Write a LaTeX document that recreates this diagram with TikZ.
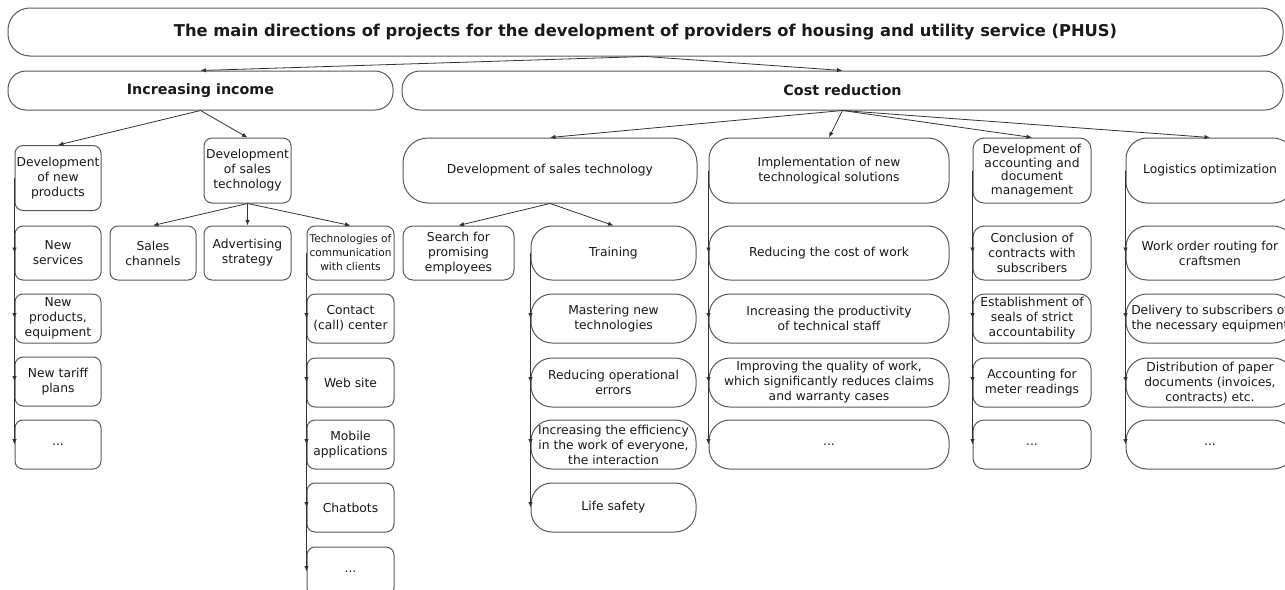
\documentclass[tikz,border=0pt]{standalone}
\usepackage{fontspec}
\setmainfont{DejaVu Sans}
\usepackage{tikz}
\usetikzlibrary{arrows.meta}

\begin{document}
\begin{tikzpicture}[x=1pt, y=-1pt,
	box/.style={draw=black!65, line width=1pt, text=black!90, align=center, inner sep=0pt, font=\fontsize{12.3}{15}\selectfont, rounded corners=8pt},
	wide/.style={box, rounded corners=21pt},
	head/.style={box, font=\bfseries\fontsize{14.3}{17}\selectfont, rounded corners=18pt, minimum height=39pt},
	rowa/.style={minimum height=65pt},
	rowb/.style={minimum height=54pt},
	rowc/.style={minimum height=49pt},
	link/.style={draw=black!80, line width=0.8pt, -{Latex[length=5.5pt,width=4.5pt]}}]
	\clip (0,0) rectangle (1285,589);
	\node[head, minimum width=1275pt, minimum height=48pt, rounded corners=22pt, font=\bfseries\fontsize{16.3}{19}\selectfont] (title) at (645.5,32) {The main directions of projects for the development of providers of housing and utility service (PHUS)};
	\node[head, minimum width=385pt] (inc) at (200.5,90.5) {Increasing income};
	\node[head, minimum width=881pt] (cost) at (842.5,90.5) {Cost reduction};
	\draw[link] (title.south) -- (inc.north);
	\draw[link] (title.south) -- (cost.north);

	\node[box, rowa, minimum width=86pt] (newprod) at (58,178) {Development\\of new\\products};
	\node[box, rowb, minimum width=86pt] (nserv) at (58,253) {New\\services};
	\node[box, rowc, minimum width=86pt] (nequip) at (58,318.5) {New\\products,\\equipment};
	\node[box, rowc, minimum width=86pt] (ntariff) at (58,381.5) {New tariff\\plans};
	\node[box, rowc, minimum width=86pt] (ndots) at (58,444.5) {...};
	\draw[link] (inc.south) -- (newprod.north);
	\foreach \k in {nserv, nequip, ntariff, ndots}
		\draw[link] (newprod.west) -- (\k.west);

	\node[box, rowa, minimum width=87pt] (incsales) at (247.5,170.5) {Development\\of sales\\technology};
	\node[box, rowb, minimum width=86pt] (channels) at (153,253) {Sales\\channels};
	\node[box, rowb, minimum width=87pt] (advert) at (247.5,253) {Advertising\\strategy};
	\node[box, rowb, minimum width=87pt, font=\fontsize{10.6}{14}\selectfont] (comm) at (350.5,253) {Technologies of\\communication\\with clients};
	\node[box, rowc, minimum width=87pt] (contact) at (350.5,318.5) {Contact\\(call) center};
	\node[box, rowc, minimum width=87pt] (web) at (350.5,382.5) {Web site};
	\node[box, rowc, minimum width=87pt] (mobile) at (350.5,444.5) {Mobile\\applications};
	\node[box, rowc, minimum width=87pt] (chatbots) at (350.5,507.5) {Chatbots};
	\node[box, rowc, minimum width=87pt] (cdots) at (350.5,571.5) {...};
	\draw[link] (inc.south) -- (incsales.north);
	\foreach \k in {channels, advert, comm}
		\draw[link] (incsales.south) -- (\k.north);
	\foreach \k in {contact, web, mobile, chatbots, cdots}
		\draw[link] (comm.west) -- (\k.west);

	\node[wide, rowa, minimum width=294pt, rounded corners=25pt] (costsales) at (550,170.5) {Development of sales technology};
	\node[box, rowb, minimum width=111pt, rounded corners=10pt] (search) at (458.5,253) {Search for\\promising\\employees};
	\node[wide, rowb, minimum width=165pt] (training) at (613.5,253) {Training};
	\node[wide, rowc, minimum width=165pt] (master) at (613.5,318.5) {Mastering new\\technologies};
	\node[wide, rowc, minimum width=165pt] (operr) at (613.5,382.5) {Reducing operational\\errors};
	\node[wide, rowc, minimum width=165pt] (effic) at (613.5,444.5) {Increasing the efficiency\\in the work of everyone,\\the interaction};
	\node[wide, rowc, minimum width=165pt] (safety) at (613.5,507.5) {Life safety};
	\draw[link] (cost.south) -- (costsales.north);
	\foreach \k in {search, training}
		\draw[link] (costsales.south) -- (\k.north);
	\foreach \k in {master, operr, effic, safety}
		\draw[link] (training.west) -- (\k.west);

	\node[wide, rowa, minimum width=240pt] (impl) at (829,170.5) {Implementation of new\\technological solutions};
	\node[wide, rowb, minimum width=240pt] (costwork) at (829,253) {Reducing the cost of work};
	\node[wide, rowc, minimum width=240pt] (product) at (829,318.5) {Increasing the productivity\\of technical staff};
	\node[wide, rowc, minimum width=240pt] (quality) at (829,382.5) {Improving the quality of work,\\which significantly reduces claims\\and warranty cases};
	\node[wide, rowc, minimum width=240pt] (idots) at (829,444.5) {...};
	\draw[link] (cost.south) -- (impl.north);
	\foreach \k in {costwork, product, quality, idots}
		\draw[link] (impl.west) -- (\k.west);

	\node[box, rowa, minimum width=118pt, rounded corners=11pt, font=\fontsize{12.3}{13.5}\selectfont] (acc) at (1032,170.5) {Development of\\accounting and\\document\\management};
	\node[box, rowb, minimum width=118pt, rounded corners=11pt] (contract) at (1032,253) {Conclusion of\\contracts with\\subscribers};
	\node[box, rowc, minimum width=118pt, rounded corners=11pt] (seals) at (1032,318.5) {Establishment of\\seals of strict\\accountability};
	\node[box, rowc, minimum width=118pt, rounded corners=11pt] (meter) at (1032,382.5) {Accounting for\\meter readings};
	\node[box, rowc, minimum width=118pt, rounded corners=11pt] (adots) at (1032,444.5) {...};
	\draw[link] (cost.south) -- (acc.north);
	\foreach \k in {contract, seals, meter, adots}
		\draw[link] (acc.west) -- (\k.west);

	\node[wide, rowa, minimum width=168pt] (logist) at (1210,170.5) {Logistics optimization};
	\node[wide, rowb, minimum width=168pt] (route) at (1210,253) {Work order routing for\\craftsmen};
	\node[wide, rowc, minimum width=168pt] (deliv) at (1210,318.5) {Delivery to subscribers of\\the necessary equipment};
	\node[wide, rowc, minimum width=168pt] (paper) at (1210,382.5) {Distribution of paper\\documents (invoices,\\contracts) etc.};
	\node[wide, rowc, minimum width=168pt] (ldots) at (1210,444.5) {...};
	\draw[link] (cost.south) -- (logist.north);
	\foreach \k in {route, deliv, paper, ldots}
		\draw[link] (logist.west) -- (\k.west);
\end{tikzpicture}
\end{document}
